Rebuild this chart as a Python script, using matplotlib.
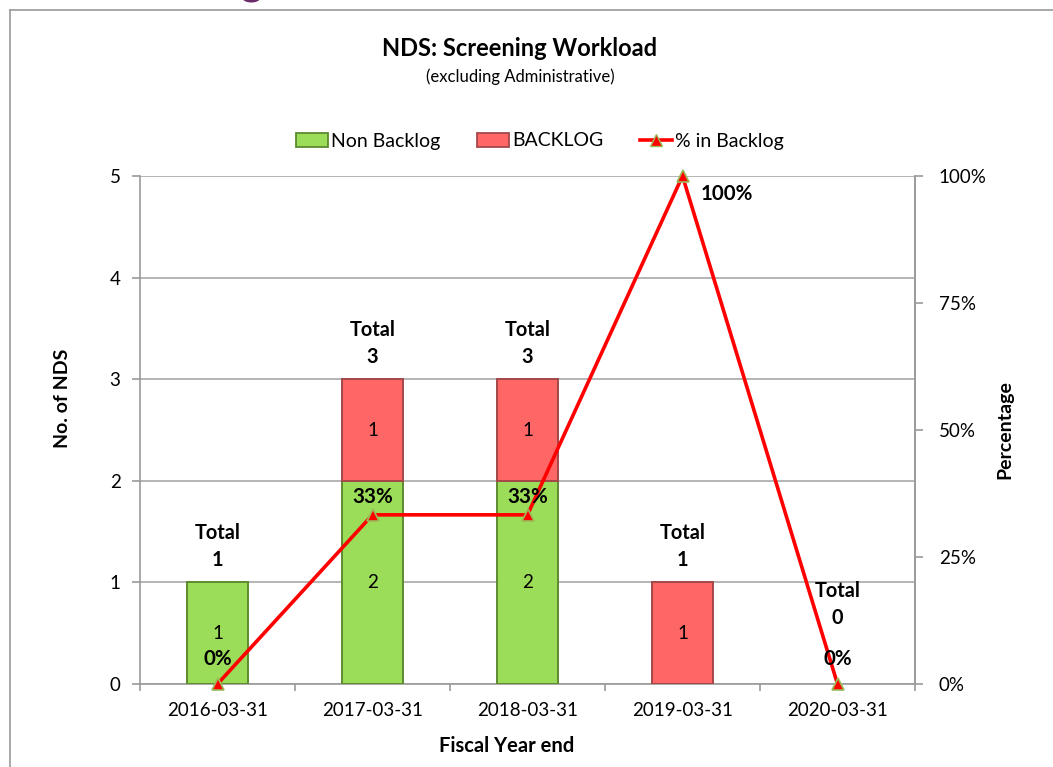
import matplotlib
matplotlib.use("Agg")
import matplotlib.pyplot as plt
from matplotlib.lines import Line2D
from matplotlib.patches import Rectangle
import numpy as np

plt.rcParams['font.family'] = ['Lato', 'DejaVu Sans']

categories = ['2016-03-31', '2017-03-31', '2018-03-31', '2019-03-31', '2020-03-31']
non_backlog = [1, 2, 2, 0, 0]
backlog = [0, 1, 1, 1, 0]
pct_backlog = [0, 33.3, 33.3, 100, 0]
pct_labels = ['0%', '33%', '33%', '100%', '0%']
y_ticks = [0, 1, 2, 3, 4, 5]
pct_ticks = [0, 25, 50, 75, 100]

W, H = 1053, 767
fig = plt.figure(figsize=(W / 100, H / 100), dpi=100)

# outer chart frame (top and left edges visible)
fig.add_artist(Line2D([10 / W, 10 / W], [0, 1 - 10 / H], color='#9a9a9a', lw=1.2))
fig.add_artist(Line2D([10 / W, 1], [1 - 10 / H, 1 - 10 / H], color='#9a9a9a', lw=1.2))
# clipped heading fragment above the chart
fig.text(252 / W, 1 + 6 / H, 'g', color='#6B2C6B', fontsize=30, fontweight='bold',
         ha='center', va='baseline')

ax = fig.add_axes([140 / W, (H - 684) / H, 775 / W, 508 / H])
ax2 = ax.twinx()

x = np.arange(len(categories))
bw = 0.39
green, green_edge = '#9BDC58', '#5E8A2E'
red, red_edge = '#FF6666', '#A54848'

nb_idx = [i for i in range(len(categories)) if non_backlog[i] > 0]
bk_idx = [i for i in range(len(categories)) if backlog[i] > 0]
ax.bar(x[nb_idx], [non_backlog[i] for i in nb_idx], bw, color=green, edgecolor=green_edge,
       linewidth=1.4, zorder=3)
ax.bar(x[bk_idx], [backlog[i] for i in bk_idx], bw,
       bottom=[non_backlog[i] for i in bk_idx], color=red, edgecolor=red_edge,
       linewidth=1.4, zorder=3)

lab_fs = 13.5
tot_fs = 14.3
pct_fs = 14.8
for i in range(len(categories)):
    if non_backlog[i] > 0:
        ax.text(x[i], non_backlog[i] / 2, str(non_backlog[i]), ha='center', va='center',
                fontsize=lab_fs, zorder=6)
    if backlog[i] > 0:
        ax.text(x[i], non_backlog[i] + backlog[i] / 2, str(backlog[i]), ha='center',
                va='center', fontsize=lab_fs, zorder=6)
    total = non_backlog[i] + backlog[i]
    off = 9 if total > 0 else 40
    ax.annotate('Total\n' + str(total), (x[i], total), xytext=(0, off),
                textcoords='offset points', ha='center', va='bottom', fontsize=tot_fs,
                fontweight='bold', linespacing=1.45, zorder=6)

ax.set_xlim(-0.5, len(categories) - 0.5)
ax.set_ylim(0, 5)
ax.set_yticks(y_ticks)
ax.set_xticks(x)
ax.set_xticklabels(categories)
ax.set_xticks(np.arange(len(categories) + 1) - 0.5, minor=True)
ax.tick_params(axis='x', which='major', length=0, pad=13, labelsize=13.5)
ax.tick_params(axis='x', which='minor', length=5, color='#9a9a9a', width=1.2)
ax.tick_params(axis='y', length=6, color='#9a9a9a', width=1.2, pad=8, labelsize=13.5)
ax.grid(axis='y', color='#a8a8a8', lw=1.2, zorder=0)
ax.set_axisbelow(True)
ax.spines['top'].set_visible(False)
for s in ['left', 'bottom', 'right']:
    ax.spines[s].set_color('#9a9a9a')
    ax.spines[s].set_linewidth(1.2)

ax.set_xlabel('Fiscal Year end', fontsize=14.5, fontweight='bold')
ax.xaxis.set_label_coords((507 - 140) / 775, -(746 - 684) / 508)
ax.xaxis.label.set_va('center')
ax.set_ylabel('No. of NDS', fontsize=14, fontweight='bold')
ax.yaxis.set_label_coords(-(140 - 62) / 775, (684 - 398) / 508)
ax.yaxis.label.set_va('center')

ax2.plot(x, pct_backlog, color='#FF0000', lw=2.6, marker='^', markersize=8,
         markerfacecolor='#FF0000', markeredgecolor='#9BBB59', markeredgewidth=1.2,
         zorder=5, clip_on=False)
ax2.set_ylim(0, 100)
ax2.set_yticks(pct_ticks)
ax2.set_yticklabels([f'{t}%' for t in pct_ticks])
ax2.tick_params(axis='y', length=6, color='#9a9a9a', width=1.2, pad=11, labelsize=13.5)
for s in ['top', 'left', 'bottom']:
    ax2.spines[s].set_visible(False)
ax2.spines['right'].set_color('#9a9a9a')
ax2.spines['right'].set_linewidth(1.2)
ax2.set_ylabel('Percentage', fontsize=14, fontweight='bold')
ax2.yaxis.set_label_coords((1005 - 140) / 775, (684 - 430) / 508)
ax2.yaxis.label.set_va('center')

for i, v in enumerate(pct_backlog):
    if v >= max(pct_backlog):
        ax2.annotate(pct_labels[i], (x[i], v), xytext=(13, -13), textcoords='offset points',
                     ha='left', va='center', fontsize=pct_fs, fontweight='bold', zorder=7)
    else:
        off = 18 if v == 0 else 13
        ax2.annotate(pct_labels[i], (x[i], v), xytext=(0, off), textcoords='offset points',
                     ha='center', va='center', fontsize=pct_fs, fontweight='bold', zorder=7)

fig.text(520 / W, 1 - 48 / H, 'NDS: Screening Workload', ha='center', va='center',
         fontsize=17, fontweight='bold')
fig.text(520 / W, 1 - 77 / H, '(excluding Administrative)', ha='center', va='center',
         fontsize=12)

handles = [
    Rectangle((0, 0), 1, 1, facecolor=green, edgecolor=green_edge, lw=1.3),
    Rectangle((0, 0), 1, 1, facecolor=red, edgecolor=red_edge, lw=1.3),
    Line2D([], [], color='#FF0000', lw=2.6, marker='^', markersize=8,
           markerfacecolor='#FF0000', markeredgecolor='#9BBB59'),
]
fig.legend(handles, ['Non Backlog', 'BACKLOG', '% in Backlog'], loc='center',
           bbox_to_anchor=(540 / W, 1 - 141 / H), ncol=3, frameon=False, fontsize=14,
           handlelength=1.65, handleheight=0.7, handletextpad=0.15, columnspacing=1.9)

fig.savefig('out.png', dpi=100)
